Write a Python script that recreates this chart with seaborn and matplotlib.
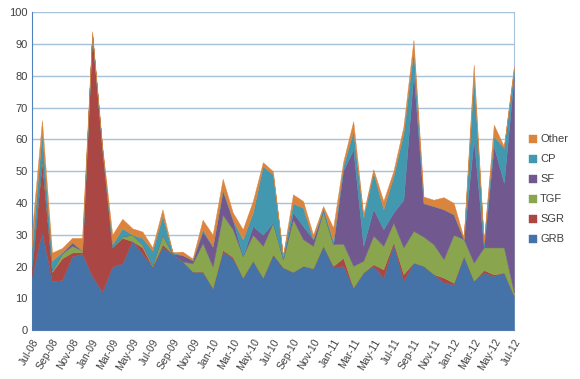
import numpy as np
import pandas as pd
import matplotlib
matplotlib.use("Agg")
import matplotlib.pyplot as plt
import seaborn as sns

# Monthly labels Jul-08 .. Jul-12
months = pd.date_range("2008-07-01", "2012-07-01", freq="MS").strftime("%b-%y").tolist()

grb = [17, 31, 15.3, 15.8, 23.2, 24, 17, 12, 20, 21, 28, 24, 20, 26, 24, 21.6, 18.4, 18.4, 13.2, 24.7,
       22.5, 16.5, 21.8, 16.5, 23.8, 19.7, 18.3, 20.2, 19.4, 26.5, 19.7, 20.2, 13.4, 18.1, 20.2,
       16.5, 27, 15.5, 21.2, 20.2, 17.6, 15, 14.4, 23.3, 15.5, 18.1, 17, 18.1, 10.8]
sgr = [3, 22, 3, 6.8, 1.2, 0.5, 76, 45, 6, 8, 0, 2, 0, 1, 0, 0, 0, 0, 0, 0.5,
       0.5, 0, 0, 0, 0, 0, 0, 0, 0, 0, 0.5, 2.5, 0, 0, 0.5,
       2.6, 0.7, 2.1, 0, 0, 0, 1.5, 0.5, 0, 0, 0.8, 0.5, 0, 0]
tgf = [0, 1.5, 0.5, 1.5, 2.1, 0.5, 0, 0, 0, 0.5, 2, 1, 0.5, 3, 0, 0, 2.6, 9, 6.8, 11.1,
       8.7, 6.8, 8.2, 10, 10, 2.6, 16.5, 8.4, 7.1, 10.9, 6.8, 4.5, 6.8, 3.7, 9,
       7.4, 6.1, 8.4, 10, 9.2, 9.4, 5.8, 15.1, 5.3, 5.7, 7.1, 8.5, 7.9, 1]
sf = [0, 0, 0, 0, 1.1, 0, 0, 0, 0, 0, 0, 0, 0, 0, 0, 2, 1, 3.6, 6.3, 7.4,
      3, 0, 2.7, 3.5, 0, 0, 2.2, 4.1, 2.1, 0, 0, 23, 36.6, 4.7, 8.4,
      5.2, 3.2, 15, 49.7, 10.5, 12, 15.7, 6.4, 0, 38.8, 0, 31.8, 20.3, 68.2]
cp = [6, 7.5, 3, 0.5, 0, 0, 0, 0, 1, 2.5, 0, 2, 4.5, 6, 0.5, 0, 0, 0.7, 0, 0.5,
      0, 5.2, 4.3, 21.6, 15.2, 1, 2.9, 5.8, 0, 1.1, 1, 1.5, 5.8, 8.9, 11.5,
      6.3, 11.4, 21, 7.3, 0, 0, 0, 0, 0, 19.8, 1.5, 3.2, 11, 1.9]
other = [5, 4, 2.6, 1.2, 1.4, 4, 1, 1, 3, 3, 2, 2, 1, 2, 0, 1.1, 0.5, 3, 3.7, 3.4,
         2.3, 3.2, 3.6, 1.2, 1, 0.2, 2.8, 2.1, 1.4, 0.5, 4.2, 1.3, 3.1, 1, 1,
         2.6, 1.6, 2, 3.1, 2.1, 2, 3.8, 3.6, 0.4, 3.7, 0.5, 3.6, 0.5, 1.1]

series_names = ["GRB", "SGR", "TGF", "SF", "CP", "Other"]
colors = ["#4572A7", "#AA4643", "#89A54E", "#71588F", "#4198AF", "#DB843D"]

df = pd.DataFrame({"GRB": grb, "SGR": sgr, "TGF": tgf, "SF": sf, "CP": cp, "Other": other},
                  index=months)

sns.set_style("white")
plt.rcParams['font.family'] = ['Liberation Sans', 'DejaVu Sans']

fig = plt.figure(figsize=(5.8, 3.79), dpi=100)
ax = fig.add_axes([0.055, 0.129, 0.831, 0.839])

x = np.arange(len(months))
ax.stackplot(x, [df[c].values for c in series_names], labels=series_names,
             colors=sns.color_palette(colors), linewidth=0.3, edgecolor="face", zorder=3)

ax.set_xlim(0, len(months) - 1)
ax.set_ylim(0, 100)
ax.set_yticks(np.arange(0, 101, 10))
ax.yaxis.grid(True, color="#A7C1DB", linewidth=1.0, zorder=0)
ax.set_xticks(x[::2])
ax.set_xticklabels(months[::2], rotation=60, ha="right", rotation_mode="anchor", fontsize=7.5, color="#404040")
ax.tick_params(axis="y", labelsize=8, colors="#404040", length=0, pad=3)
ax.tick_params(axis="x", length=3, color="#7F9DC7", pad=2)

ax.spines["top"].set_visible(False)
ax.spines["left"].set_color("#4F81BD")
ax.spines["right"].set_color("#A7C1DB")
ax.spines["bottom"].set_color("#7F9DC7")

handles, labels = ax.get_legend_handles_labels()
fig.legend(handles[::-1], labels[::-1], loc="center left", bbox_to_anchor=(0.895, 0.5),
           frameon=False, fontsize=8, handlelength=0.7, handleheight=0.7,
           handletextpad=0.3, labelspacing=0.9, labelcolor="#404040")

fig.savefig("out.png", dpi=100)
